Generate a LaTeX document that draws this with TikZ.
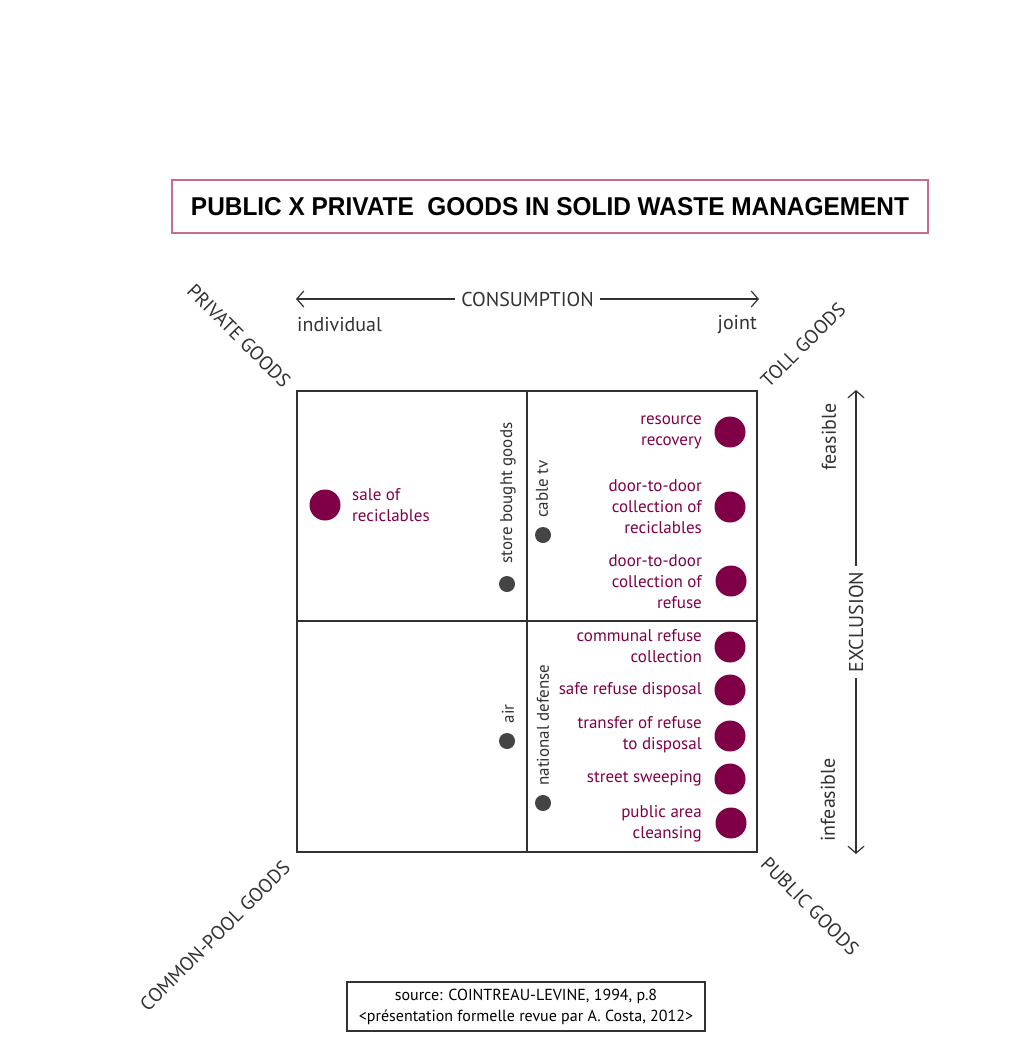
\documentclass[tikz,border=0pt]{standalone}
\usepackage{fontspec}
\setmainfont{PT Sans}
\newfontfamily\titlefont{Liberation Sans}
\usetikzlibrary{arrows.meta}
\definecolor{wine}{RGB}{128,0,72}
\definecolor{ink}{RGB}{50,50,50}
\definecolor{dotgray}{RGB}{68,68,68}
\definecolor{titlerule}{RGB}{200,110,140}
\tikzset{
  axis/.style={draw=ink, line width=1.2pt, {Straight Barb[length=7pt,width=16pt]}-{Straight Barb[length=7pt,width=16pt]}},
  axislabel/.style={font=\fontsize{20}{22}\selectfont, text=ink, fill=white, inner xsep=6pt, inner ysep=1pt},
  endlabel/.style={font=\fontsize{20}{22}\selectfont, text=ink, inner sep=0pt},
  cornerlabel/.style={font=\fontsize{19.5}{22}\selectfont, text=ink, inner sep=0pt},
  bigdot/.style={circle, fill=wine, minimum size=31pt, inner sep=0pt},
  smalldot/.style={circle, fill=dotgray, minimum size=16pt, inner sep=0pt},
  winelabel/.style={font=\fontsize{17}{21}\selectfont, text=wine, align=right, inner sep=0pt, anchor=east},
  graylabel/.style={font=\fontsize{17}{19}\selectfont, text=ink, inner sep=0pt, rotate=90},
  frame/.style={draw=ink, line width=1.5pt},
}
\begin{document}
\begin{tikzpicture}[x=1pt,y=-1pt]
\useasboundingbox[fill=white] (0,0) rectangle (1032,1041);

% title
\node[draw=titlerule, line width=1.5pt, minimum width=756pt, minimum height=53pt, inner sep=0pt] (title) at (550,206.5)
  {\resizebox{718pt}{18pt}{\titlefont\bfseries PUBLIC X PRIVATE\ \ GOODS IN SOLID WASTE MANAGEMENT}};

% main square
\coordinate (tl) at (297,391);
\coordinate (br) at (757,852);
\draw[frame] (tl) rectangle (br);
\coordinate (vtop) at (527,391);
\coordinate (vbot) at (527,852);
\coordinate (hleft) at (297,621);
\coordinate (hright) at (757,621);
\draw[frame] (vtop) -- (vbot);
\draw[frame] (hleft) -- (hright);

% consumption axis
\coordinate (cl) at (296,299);
\coordinate (cr) at (759,299);
\draw[axis] (cl) -- (cr);
\node[axislabel] (cons) at (527.5,299) {CONSUMPTION};
\node[endlabel, anchor=west] (indiv) at (297,325) {individual};
\node[endlabel, anchor=east] (joint) at (757,325) {joint};

% exclusion axis
\coordinate (et) at (856,390);
\coordinate (eb) at (856,854);
\draw[axis] (et) -- (eb);
\node[axislabel, rotate=90] (excl) at (856,622) {EXCLUSION};
\node[endlabel, rotate=90] (feas) at (829,437) {feasible};
\node[endlabel, rotate=90] (infeas) at (828,800) {infeasible};

% corner labels
\node[cornerlabel, rotate=-45] (priv) at (239,336) {PRIVATE GOODS};
\node[cornerlabel, rotate=45] (toll) at (803,345) {TOLL GOODS};
\node[cornerlabel, rotate=45] (cpool) at (215,936) {COMMON-POOL GOODS};
\node[cornerlabel, rotate=-45] (pub) at (810,906) {PUBLIC GOODS};

% wine items
\node[bigdot] (d1) at (730,432) {};
\node[winelabel] (l1) at (702,432) {resource\\recovery};
\node[bigdot] (d2) at (730,507) {};
\node[winelabel] (l2) at (702,507) {door-to-door\\collection of\\reciclables};
\node[bigdot] (d3) at (731,581) {};
\node[winelabel] (l3) at (702,582) {door-to-door\\collection of\\refuse};
\node[bigdot] (d4) at (730,647) {};
\node[winelabel] (l4) at (702,646) {communal refuse\\collection};
\node[bigdot] (d5) at (730,690) {};
\node[winelabel] (l5) at (702,690) {safe refuse disposal};
\node[bigdot] (d6) at (730,736) {};
\node[winelabel] (l6) at (702,735) {transfer of refuse\\to disposal};
\node[bigdot] (d7) at (730,779) {};
\node[winelabel] (l7) at (702,778) {street sweeping};
\node[bigdot] (d8) at (731,823) {};
\node[winelabel] (l8) at (702,824) {public area\\cleansing};

\node[bigdot] (d0) at (325,505) {};
\node[winelabel, anchor=west, align=left] (l0) at (352,505) {sale of\\reciclables};

% gray items
\node[smalldot] (g1) at (507,584) {};
\node[graylabel] (t1) at (508,493) {store bought goods};
\node[smalldot] (g2) at (543,535) {};
\node[graylabel] (t2) at (542,489) {cable tv};
\node[smalldot] (g3) at (507,741) {};
\node[graylabel] (t3) at (508,714) {air};
\node[smalldot] (g4) at (543,803) {};
\node[graylabel] (t4) at (543,725) {national defense};

% source box
\node[draw=ink, line width=1.2pt, minimum width=358pt, minimum height=49pt, align=center, inner sep=0pt,
  font=\fontsize{16}{21}\selectfont, text=black] (src) at (526,1006.5)
  {source: COINTREAU-LEVINE, 1994, p.8\\<présentation formelle revue par A. Costa, 2012>};
\end{tikzpicture}
\end{document}
